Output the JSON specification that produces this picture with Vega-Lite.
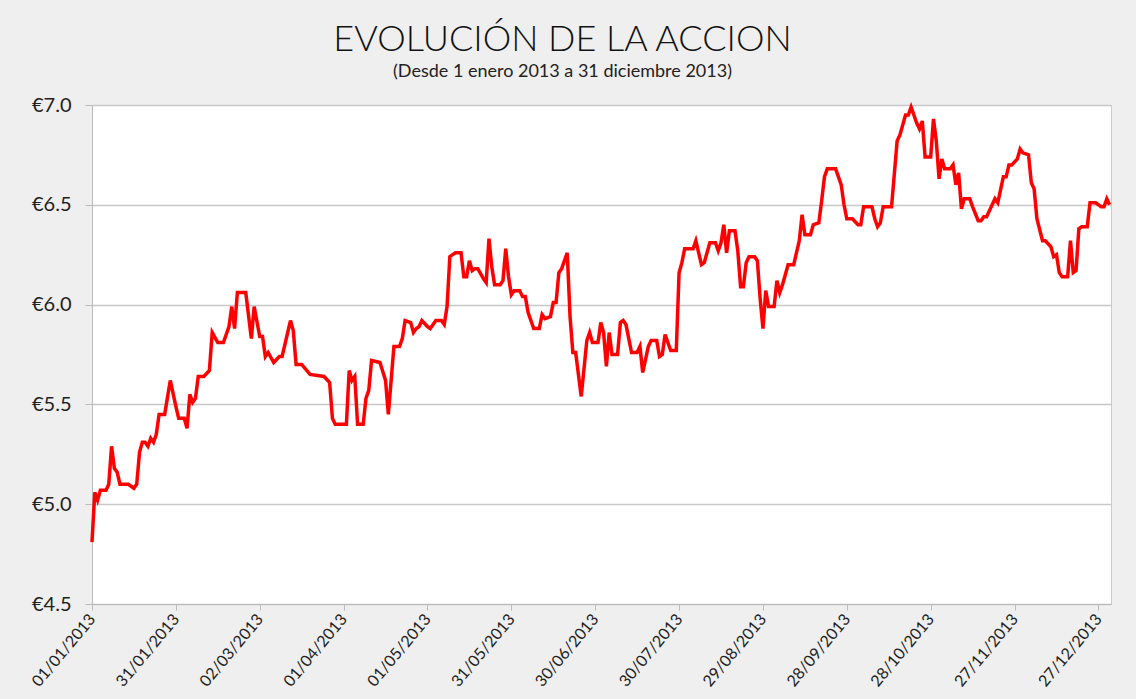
{
  "$schema": "https://vega.github.io/schema/vega-lite/v6.json",
  "width": 1019,
  "height": 499,
  "autosize": {"type": "none"},
  "padding": {"left": 92, "top": 105, "right": 25, "bottom": 95},
  "background": "#efefef",
  "title": {
    "text": "EVOLUCIÓN DE LA ACCION",
    "subtitle": "(Desde 1 enero 2013 a 31 diciembre 2013)",
    "font": "Lato",
    "fontSize": 36,
    "fontWeight": 300,
    "color": "#111111",
    "subtitleFont": "Lato",
    "subtitleFontSize": 18,
    "subtitleFontWeight": "normal",
    "subtitleColor": "#222222",
    "subtitlePadding": 4,
    "anchor": "middle",
    "frame": "group",
    "dx": -39,
    "offset": 13
  },
  "config": {
    "view": {"stroke": "#cccccc", "fill": "#ffffff"},
    "axis": {"labelFont": "Lato", "labelColor": "#222222", "domainColor": "#bbbbbb", "tickColor": "#bbbbbb", "gridColor": "#c8c8c8", "gridWidth": 1.5}
  },
  "data": {
    "values": [
      {"date": "2013-01-01T00:00:00", "price": 4.81},
      {"date": "2013-01-02T00:00:00", "price": 5.06},
      {"date": "2013-01-03T00:00:00", "price": 5.02},
      {"date": "2013-01-04T00:00:00", "price": 5.07},
      {"date": "2013-01-06T00:00:00", "price": 5.07},
      {"date": "2013-01-07T00:00:00", "price": 5.10},
      {"date": "2013-01-08T00:00:00", "price": 5.29},
      {"date": "2013-01-09T00:00:00", "price": 5.18},
      {"date": "2013-01-10T00:00:00", "price": 5.16},
      {"date": "2013-01-11T00:00:00", "price": 5.10},
      {"date": "2013-01-14T00:00:00", "price": 5.10},
      {"date": "2013-01-16T00:00:00", "price": 5.08},
      {"date": "2013-01-17T00:00:00", "price": 5.10},
      {"date": "2013-01-18T00:00:00", "price": 5.26},
      {"date": "2013-01-19T00:00:00", "price": 5.31},
      {"date": "2013-01-20T00:00:00", "price": 5.31},
      {"date": "2013-01-21T00:00:00", "price": 5.29},
      {"date": "2013-01-22T00:00:00", "price": 5.33},
      {"date": "2013-01-23T00:00:00", "price": 5.31},
      {"date": "2013-01-24T00:00:00", "price": 5.35},
      {"date": "2013-01-25T00:00:00", "price": 5.45},
      {"date": "2013-01-27T00:00:00", "price": 5.45},
      {"date": "2013-01-29T00:00:00", "price": 5.62},
      {"date": "2013-01-31T00:00:00", "price": 5.49},
      {"date": "2013-02-01T00:00:00", "price": 5.43},
      {"date": "2013-02-03T00:00:00", "price": 5.43},
      {"date": "2013-02-04T00:00:00", "price": 5.38},
      {"date": "2013-02-05T00:00:00", "price": 5.55},
      {"date": "2013-02-06T00:00:00", "price": 5.51},
      {"date": "2013-02-07T00:00:00", "price": 5.53},
      {"date": "2013-02-08T00:00:00", "price": 5.64},
      {"date": "2013-02-10T00:00:00", "price": 5.64},
      {"date": "2013-02-12T00:00:00", "price": 5.67},
      {"date": "2013-02-13T00:00:00", "price": 5.86},
      {"date": "2013-02-15T00:00:00", "price": 5.81},
      {"date": "2013-02-17T00:00:00", "price": 5.81},
      {"date": "2013-02-19T00:00:00", "price": 5.89},
      {"date": "2013-02-20T00:00:00", "price": 5.99},
      {"date": "2013-02-21T00:00:00", "price": 5.88},
      {"date": "2013-02-22T00:00:00", "price": 6.06},
      {"date": "2013-02-25T00:00:00", "price": 6.06},
      {"date": "2013-02-27T00:00:00", "price": 5.83},
      {"date": "2013-02-28T00:00:00", "price": 5.99},
      {"date": "2013-03-02T00:00:00", "price": 5.84},
      {"date": "2013-03-03T00:00:00", "price": 5.84},
      {"date": "2013-03-04T00:00:00", "price": 5.74},
      {"date": "2013-03-05T00:00:00", "price": 5.76},
      {"date": "2013-03-07T00:00:00", "price": 5.71},
      {"date": "2013-03-09T00:00:00", "price": 5.74},
      {"date": "2013-03-10T00:00:00", "price": 5.74},
      {"date": "2013-03-13T00:00:00", "price": 5.92},
      {"date": "2013-03-14T00:00:00", "price": 5.87},
      {"date": "2013-03-15T00:00:00", "price": 5.70},
      {"date": "2013-03-17T00:00:00", "price": 5.70},
      {"date": "2013-03-20T00:00:00", "price": 5.65},
      {"date": "2013-03-25T00:00:00", "price": 5.64},
      {"date": "2013-03-27T00:00:00", "price": 5.61},
      {"date": "2013-03-28T00:00:00", "price": 5.43},
      {"date": "2013-03-29T00:00:00", "price": 5.40},
      {"date": "2013-04-02T00:00:00", "price": 5.40},
      {"date": "2013-04-03T00:00:00", "price": 5.67},
      {"date": "2013-04-04T00:00:00", "price": 5.62},
      {"date": "2013-04-05T00:00:00", "price": 5.64},
      {"date": "2013-04-06T00:00:00", "price": 5.40},
      {"date": "2013-04-08T00:00:00", "price": 5.40},
      {"date": "2013-04-09T00:00:00", "price": 5.53},
      {"date": "2013-04-10T00:00:00", "price": 5.57},
      {"date": "2013-04-11T00:00:00", "price": 5.72},
      {"date": "2013-04-14T00:00:00", "price": 5.71},
      {"date": "2013-04-16T00:00:00", "price": 5.62},
      {"date": "2013-04-17T00:00:00", "price": 5.45},
      {"date": "2013-04-19T00:00:00", "price": 5.79},
      {"date": "2013-04-21T00:00:00", "price": 5.79},
      {"date": "2013-04-22T00:00:00", "price": 5.83},
      {"date": "2013-04-23T00:00:00", "price": 5.92},
      {"date": "2013-04-25T00:00:00", "price": 5.91},
      {"date": "2013-04-26T00:00:00", "price": 5.86},
      {"date": "2013-04-27T00:00:00", "price": 5.88},
      {"date": "2013-04-28T00:00:00", "price": 5.89},
      {"date": "2013-04-29T00:00:00", "price": 5.92},
      {"date": "2013-05-01T00:00:00", "price": 5.89},
      {"date": "2013-05-02T00:00:00", "price": 5.88},
      {"date": "2013-05-04T00:00:00", "price": 5.92},
      {"date": "2013-05-06T00:00:00", "price": 5.92},
      {"date": "2013-05-07T00:00:00", "price": 5.90},
      {"date": "2013-05-08T00:00:00", "price": 5.99},
      {"date": "2013-05-09T00:00:00", "price": 6.24},
      {"date": "2013-05-10T00:00:00", "price": 6.25},
      {"date": "2013-05-11T00:00:00", "price": 6.26},
      {"date": "2013-05-13T00:00:00", "price": 6.26},
      {"date": "2013-05-14T00:00:00", "price": 6.14},
      {"date": "2013-05-15T00:00:00", "price": 6.14},
      {"date": "2013-05-16T00:00:00", "price": 6.22},
      {"date": "2013-05-17T00:00:00", "price": 6.17},
      {"date": "2013-05-18T00:00:00", "price": 6.18},
      {"date": "2013-05-19T00:00:00", "price": 6.18},
      {"date": "2013-05-21T00:00:00", "price": 6.13},
      {"date": "2013-05-22T00:00:00", "price": 6.11},
      {"date": "2013-05-23T00:00:00", "price": 6.33},
      {"date": "2013-05-24T00:00:00", "price": 6.19},
      {"date": "2013-05-25T00:00:00", "price": 6.10},
      {"date": "2013-05-27T00:00:00", "price": 6.10},
      {"date": "2013-05-28T00:00:00", "price": 6.12},
      {"date": "2013-05-29T00:00:00", "price": 6.28},
      {"date": "2013-05-30T00:00:00", "price": 6.14},
      {"date": "2013-05-31T00:00:00", "price": 6.05},
      {"date": "2013-06-01T00:00:00", "price": 6.07},
      {"date": "2013-06-03T00:00:00", "price": 6.07},
      {"date": "2013-06-04T00:00:00", "price": 6.04},
      {"date": "2013-06-05T00:00:00", "price": 6.04},
      {"date": "2013-06-06T00:00:00", "price": 5.96},
      {"date": "2013-06-08T00:00:00", "price": 5.88},
      {"date": "2013-06-10T00:00:00", "price": 5.88},
      {"date": "2013-06-11T00:00:00", "price": 5.95},
      {"date": "2013-06-12T00:00:00", "price": 5.93},
      {"date": "2013-06-14T00:00:00", "price": 5.94},
      {"date": "2013-06-15T00:00:00", "price": 6.01},
      {"date": "2013-06-16T00:00:00", "price": 6.01},
      {"date": "2013-06-17T00:00:00", "price": 6.16},
      {"date": "2013-06-18T00:00:00", "price": 6.18},
      {"date": "2013-06-20T00:00:00", "price": 6.26},
      {"date": "2013-06-21T00:00:00", "price": 5.94},
      {"date": "2013-06-22T00:00:00", "price": 5.76},
      {"date": "2013-06-23T00:00:00", "price": 5.76},
      {"date": "2013-06-25T00:00:00", "price": 5.54},
      {"date": "2013-06-27T00:00:00", "price": 5.82},
      {"date": "2013-06-28T00:00:00", "price": 5.86},
      {"date": "2013-06-29T00:00:00", "price": 5.81},
      {"date": "2013-07-01T00:00:00", "price": 5.81},
      {"date": "2013-07-02T00:00:00", "price": 5.91},
      {"date": "2013-07-03T00:00:00", "price": 5.86},
      {"date": "2013-07-04T00:00:00", "price": 5.69},
      {"date": "2013-07-05T00:00:00", "price": 5.86},
      {"date": "2013-07-06T00:00:00", "price": 5.75},
      {"date": "2013-07-08T00:00:00", "price": 5.75},
      {"date": "2013-07-09T00:00:00", "price": 5.91},
      {"date": "2013-07-10T00:00:00", "price": 5.92},
      {"date": "2013-07-11T00:00:00", "price": 5.90},
      {"date": "2013-07-13T00:00:00", "price": 5.76},
      {"date": "2013-07-15T00:00:00", "price": 5.76},
      {"date": "2013-07-16T00:00:00", "price": 5.79},
      {"date": "2013-07-17T00:00:00", "price": 5.66},
      {"date": "2013-07-19T00:00:00", "price": 5.79},
      {"date": "2013-07-20T00:00:00", "price": 5.82},
      {"date": "2013-07-22T00:00:00", "price": 5.82},
      {"date": "2013-07-23T00:00:00", "price": 5.74},
      {"date": "2013-07-24T00:00:00", "price": 5.75},
      {"date": "2013-07-25T00:00:00", "price": 5.85},
      {"date": "2013-07-27T00:00:00", "price": 5.77},
      {"date": "2013-07-29T00:00:00", "price": 5.77},
      {"date": "2013-07-30T00:00:00", "price": 6.16},
      {"date": "2013-07-31T00:00:00", "price": 6.21},
      {"date": "2013-08-01T00:00:00", "price": 6.28},
      {"date": "2013-08-04T00:00:00", "price": 6.28},
      {"date": "2013-08-05T00:00:00", "price": 6.32},
      {"date": "2013-08-07T00:00:00", "price": 6.20},
      {"date": "2013-08-08T00:00:00", "price": 6.21},
      {"date": "2013-08-10T00:00:00", "price": 6.31},
      {"date": "2013-08-12T00:00:00", "price": 6.31},
      {"date": "2013-08-13T00:00:00", "price": 6.27},
      {"date": "2013-08-14T00:00:00", "price": 6.31},
      {"date": "2013-08-15T00:00:00", "price": 6.40},
      {"date": "2013-08-16T00:00:00", "price": 6.26},
      {"date": "2013-08-17T00:00:00", "price": 6.37},
      {"date": "2013-08-19T00:00:00", "price": 6.37},
      {"date": "2013-08-20T00:00:00", "price": 6.27},
      {"date": "2013-08-21T00:00:00", "price": 6.09},
      {"date": "2013-08-22T00:00:00", "price": 6.09},
      {"date": "2013-08-23T00:00:00", "price": 6.21},
      {"date": "2013-08-24T00:00:00", "price": 6.24},
      {"date": "2013-08-26T00:00:00", "price": 6.24},
      {"date": "2013-08-27T00:00:00", "price": 6.22},
      {"date": "2013-08-28T00:00:00", "price": 6.03},
      {"date": "2013-08-29T00:00:00", "price": 5.88},
      {"date": "2013-08-30T00:00:00", "price": 6.07},
      {"date": "2013-08-31T00:00:00", "price": 5.99},
      {"date": "2013-09-02T00:00:00", "price": 5.99},
      {"date": "2013-09-03T00:00:00", "price": 6.12},
      {"date": "2013-09-04T00:00:00", "price": 6.06},
      {"date": "2013-09-05T00:00:00", "price": 6.10},
      {"date": "2013-09-07T00:00:00", "price": 6.20},
      {"date": "2013-09-09T00:00:00", "price": 6.20},
      {"date": "2013-09-10T00:00:00", "price": 6.26},
      {"date": "2013-09-11T00:00:00", "price": 6.32},
      {"date": "2013-09-12T00:00:00", "price": 6.45},
      {"date": "2013-09-13T00:00:00", "price": 6.35},
      {"date": "2013-09-15T00:00:00", "price": 6.35},
      {"date": "2013-09-16T00:00:00", "price": 6.40},
      {"date": "2013-09-18T00:00:00", "price": 6.41},
      {"date": "2013-09-19T00:00:00", "price": 6.52},
      {"date": "2013-09-20T00:00:00", "price": 6.64},
      {"date": "2013-09-21T00:00:00", "price": 6.68},
      {"date": "2013-09-24T00:00:00", "price": 6.68},
      {"date": "2013-09-26T00:00:00", "price": 6.60},
      {"date": "2013-09-27T00:00:00", "price": 6.50},
      {"date": "2013-09-28T00:00:00", "price": 6.43},
      {"date": "2013-09-30T00:00:00", "price": 6.43},
      {"date": "2013-10-02T00:00:00", "price": 6.40},
      {"date": "2013-10-03T00:00:00", "price": 6.40},
      {"date": "2013-10-04T00:00:00", "price": 6.49},
      {"date": "2013-10-07T00:00:00", "price": 6.49},
      {"date": "2013-10-08T00:00:00", "price": 6.43},
      {"date": "2013-10-09T00:00:00", "price": 6.39},
      {"date": "2013-10-10T00:00:00", "price": 6.41},
      {"date": "2013-10-11T00:00:00", "price": 6.49},
      {"date": "2013-10-14T00:00:00", "price": 6.49},
      {"date": "2013-10-16T00:00:00", "price": 6.82},
      {"date": "2013-10-17T00:00:00", "price": 6.85},
      {"date": "2013-10-19T00:00:00", "price": 6.95},
      {"date": "2013-10-20T00:00:00", "price": 6.95},
      {"date": "2013-10-21T00:00:00", "price": 6.99},
      {"date": "2013-10-23T00:00:00", "price": 6.91},
      {"date": "2013-10-24T00:00:00", "price": 6.88},
      {"date": "2013-10-25T00:00:00", "price": 6.92},
      {"date": "2013-10-26T00:00:00", "price": 6.74},
      {"date": "2013-10-28T00:00:00", "price": 6.74},
      {"date": "2013-10-29T00:00:00", "price": 6.93},
      {"date": "2013-10-30T00:00:00", "price": 6.82},
      {"date": "2013-10-31T00:00:00", "price": 6.63},
      {"date": "2013-11-01T00:00:00", "price": 6.73},
      {"date": "2013-11-02T00:00:00", "price": 6.68},
      {"date": "2013-11-04T00:00:00", "price": 6.68},
      {"date": "2013-11-05T00:00:00", "price": 6.70},
      {"date": "2013-11-06T00:00:00", "price": 6.60},
      {"date": "2013-11-07T00:00:00", "price": 6.66},
      {"date": "2013-11-08T00:00:00", "price": 6.48},
      {"date": "2013-11-09T00:00:00", "price": 6.53},
      {"date": "2013-11-11T00:00:00", "price": 6.53},
      {"date": "2013-11-12T00:00:00", "price": 6.49},
      {"date": "2013-11-14T00:00:00", "price": 6.42},
      {"date": "2013-11-15T00:00:00", "price": 6.42},
      {"date": "2013-11-16T00:00:00", "price": 6.44},
      {"date": "2013-11-17T00:00:00", "price": 6.44},
      {"date": "2013-11-19T00:00:00", "price": 6.50},
      {"date": "2013-11-20T00:00:00", "price": 6.53},
      {"date": "2013-11-21T00:00:00", "price": 6.51},
      {"date": "2013-11-23T00:00:00", "price": 6.64},
      {"date": "2013-11-24T00:00:00", "price": 6.64},
      {"date": "2013-11-25T00:00:00", "price": 6.70},
      {"date": "2013-11-26T00:00:00", "price": 6.70},
      {"date": "2013-11-28T00:00:00", "price": 6.73},
      {"date": "2013-11-29T00:00:00", "price": 6.78},
      {"date": "2013-11-30T00:00:00", "price": 6.76},
      {"date": "2013-12-02T00:00:00", "price": 6.75},
      {"date": "2013-12-03T00:00:00", "price": 6.61},
      {"date": "2013-12-04T00:00:00", "price": 6.58},
      {"date": "2013-12-05T00:00:00", "price": 6.43},
      {"date": "2013-12-07T00:00:00", "price": 6.32},
      {"date": "2013-12-08T00:00:00", "price": 6.32},
      {"date": "2013-12-10T00:00:00", "price": 6.29},
      {"date": "2013-12-11T00:00:00", "price": 6.24},
      {"date": "2013-12-12T00:00:00", "price": 6.25},
      {"date": "2013-12-13T00:00:00", "price": 6.16},
      {"date": "2013-12-14T00:00:00", "price": 6.14},
      {"date": "2013-12-16T00:00:00", "price": 6.14},
      {"date": "2013-12-17T00:00:00", "price": 6.32},
      {"date": "2013-12-18T00:00:00", "price": 6.16},
      {"date": "2013-12-19T00:00:00", "price": 6.17},
      {"date": "2013-12-20T00:00:00", "price": 6.38},
      {"date": "2013-12-21T00:00:00", "price": 6.39},
      {"date": "2013-12-23T00:00:00", "price": 6.39},
      {"date": "2013-12-24T00:00:00", "price": 6.51},
      {"date": "2013-12-26T00:00:00", "price": 6.51},
      {"date": "2013-12-28T00:00:00", "price": 6.49},
      {"date": "2013-12-29T00:00:00", "price": 6.49},
      {"date": "2013-12-30T00:00:00", "price": 6.53},
      {"date": "2013-12-31T00:00:00", "price": 6.50}
    ]
  },
  "mark": {"type": "line", "color": "#ff0000", "strokeWidth": 3.5, "interpolate": "linear"},
  "encoding": {
    "x": {
      "field": "date",
      "type": "temporal",
      "scale": {"domain": [{"year": 2013, "month": 1, "date": 1}, {"year": 2013, "month": 12, "date": 31, "hours": 12}]},
      "axis": {
        "title": null,
        "format": "%d/%m/%Y",
        "labelAngle": -50,
        "labelAlign": "right",
        "labelBaseline": "middle",
        "labelFontSize": 16,
        "labelPadding": 6,
        "tickSize": 6,
        "grid": false,
        "values": [
          {"year": 2013, "month": 1, "date": 1},
          {"year": 2013, "month": 1, "date": 31},
          {"year": 2013, "month": 3, "date": 2},
          {"year": 2013, "month": 4, "date": 1},
          {"year": 2013, "month": 5, "date": 1},
          {"year": 2013, "month": 5, "date": 31},
          {"year": 2013, "month": 6, "date": 30},
          {"year": 2013, "month": 7, "date": 30},
          {"year": 2013, "month": 8, "date": 29},
          {"year": 2013, "month": 9, "date": 28},
          {"year": 2013, "month": 10, "date": 28},
          {"year": 2013, "month": 11, "date": 27},
          {"year": 2013, "month": 12, "date": 27}
        ]
      }
    },
    "y": {
      "field": "price",
      "type": "quantitative",
      "scale": {"domain": [4.5, 7.0], "nice": false, "zero": false},
      "axis": {
        "title": null,
        "values": [4.5, 5.0, 5.5, 6.0, 6.5, 7.0],
        "labelExpr": "'€' + format(datum.value, '.1f')",
        "labelFontSize": 20,
        "labelPadding": 14,
        "tickSize": 7,
        "grid": true
      }
    }
  }
}
